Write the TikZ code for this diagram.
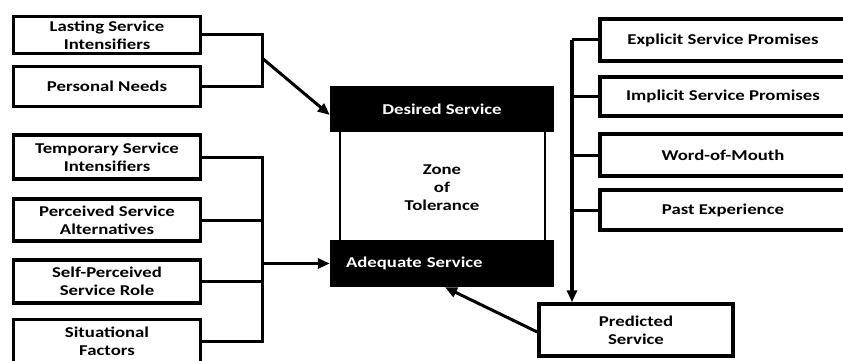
\documentclass[tikz,border=0pt]{standalone}
\usepackage{fontspec}
\setmainfont[FakeStretch=1.25]{Carlito}
\usetikzlibrary{arrows.meta, positioning, shapes}
\tikzset{>={Triangle[length=12pt,width=10pt]}, x=1pt, y=-1pt,
    factor/.style={rectangle, draw, line width=3.5pt, font=\fontsize{15}{18}\selectfont\bfseries, align=center, inner sep=0pt},
    level/.style={rectangle, fill=black, text=white, minimum width=224pt, minimum height=46pt, font=\fontsize{15}{18}\selectfont\bfseries, inner sep=0pt},
    link/.style={line width=3pt}}

\begin{document}
\begin{tikzpicture}
        \useasboundingbox (0,0) rectangle (843,361);
        % left side
        \node[factor, minimum width=187pt, minimum height=37pt] (lasting) at (107,35) {Lasting Service\\Intensifiers};
        \node[factor, minimum width=187pt, minimum height=40pt] (personal) at (107,86.5) {Personal Needs};
        \node[factor, minimum width=187pt, minimum height=44pt] (temporary) at (107,157) {Temporary Service\\Intensifiers};
        \node[factor, minimum width=187pt, minimum height=42pt] (perceived) at (107,220) {Perceived Service\\Alternatives};
        \node[factor, minimum width=187pt, minimum height=43pt] (selfrole) at (107,281.5) {Self-Perceived\\Service Role};
        \node[factor, minimum width=187pt, minimum height=43pt] (situational) at (107,341) {Situational\\Factors};
        % centre
        \node[level] (desired) at (442,109) {Desired Service};
        \node[level, minimum height=47pt, text width=192pt, align=left] (adequate) at (442,263.5) {Adequate Service};
        \node[align=center, font=\fontsize{15}{18}\selectfont\bfseries] (zone) at (442,188) {Zone\\of\\Tolerance};
        \draw[line width=1.5pt] (desired.south west) ++(10,0) coordinate (zl) -- (zl |- adequate.north);
        \draw[line width=1.5pt] (desired.south east) ++(-9,0) coordinate (zr) -- (zr |- adequate.north);
        % right side
        \node[factor, minimum width=246pt, minimum height=42pt] (explicit) at (723,40) {Explicit Service Promises};
        \node[factor, minimum width=246pt, minimum height=39pt] (implicit) at (723,96.5) {Implicit Service Promises};
        \node[factor, minimum width=246pt, minimum height=42pt] (mouth) at (723,155) {Word-of-Mouth};
        \node[factor, minimum width=246pt, minimum height=40pt] (past) at (723,210) {Past Experience};
        \node[factor, minimum width=194pt, minimum height=52pt] (predicted) at (636,330) {Predicted\\Service};
        % connectors
        \coordinate (ljoin) at (262,0);
        \coordinate (rjoin) at (572,0);
        \draw[link] (lasting.east) -- (lasting.east -| ljoin) -- (personal.east -| ljoin) -- (personal.east);
        \draw[link, ->] (262,58) -- ([yshift=-6pt]desired.west);
        \draw[link] (temporary.east) -- (temporary.east -| ljoin) -- (situational.east -| ljoin) -- (situational.east);
        \foreach \f in {perceived, selfrole}
            \draw[link] (\f.east) -- (\f.east -| ljoin);
        \draw[link, ->] (adequate.west -| ljoin) -- (adequate.west);
        \draw[link] (explicit.west) -- (explicit.west -| rjoin);
        \foreach \f in {implicit, mouth, past}
            \draw[link] (\f.west) -- (\f.west -| rjoin);
        \draw[link, line width=3.5pt, ->] (explicit.west -| rjoin) -- (predicted.north -| rjoin);
        \draw[link, ->] ([yshift=-2pt]predicted.west) -- ([xshift=3pt]adequate.south);
    \end{tikzpicture}
\end{document}
